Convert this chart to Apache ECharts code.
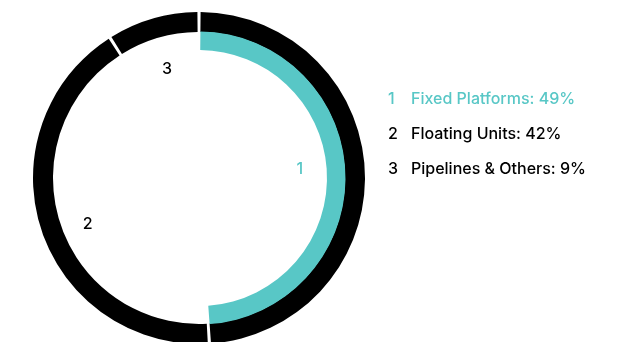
<!DOCTYPE html>
<html>
<head>
<meta charset="utf-8">
<script src="https://cdn.jsdelivr.net/npm/echarts@6/dist/echarts.min.js"></script>
<style>
  html, body { margin: 0; padding: 0; background: #fff; }
  #chart { width: 625px; height: 342px; }
</style>
</head>
<body>
<div id="chart"></div>
<script>
  // data
  const categories = ['Fixed Platforms', 'Floating Units', 'Pipelines & Others'];
  const shares = [49, 42, 9];
  const markers = ['1', '2', '3'];

  const TEAL = '#58c7c6';
  const INK = '#000000';
  const FONT = 'Inter, "Liberation Sans", sans-serif';

  // per-slice label nudge, px
  const labelShift = [[-17, -5], [1, 10], [1, 5]];

  const chart = echarts.init(document.getElementById('chart'), null, { renderer: 'canvas' });

  chart.setOption({
    animation: false,
    backgroundColor: '#fff',
    legend: {
      orient: 'vertical',
      left: 378,
      top: 85,
      itemWidth: 0,
      itemHeight: 0,
      itemGap: 17,
      icon: 'rect',
      selectedMode: false,
      data: categories.map((c, i) => ({
        name: c,
        textStyle: { color: i === 0 ? TEAL : INK }
      })),
      textStyle: {
        fontFamily: FONT, fontSize: 16, fontWeight: 500, lineHeight: 18,
        rich: {
          n: { width: 23, fontFamily: FONT, fontSize: 16, fontWeight: 500 }
        }
      },
      formatter: (name) => {
        const i = categories.indexOf(name);
        return '{n|' + markers[i] + '}' + name + ': ' + shares[i] + '%';
      }
    },
    series: [
      {
        // outer black ring
        type: 'pie',
        center: [199, 178],
        radius: [146, 166],
        startAngle: 90,
        padAngle: 1.1,
        silent: true,
        label: { show: false },
        labelLine: { show: false },
        itemStyle: { color: INK },
        data: categories.map((c, i) => ({ name: c, value: shares[i] }))
      },
      {
        // inner teal arc, only the first slice shows
        type: 'pie',
        center: [199, 178],
        radius: [128, 146.5],
        startAngle: 90,
        padAngle: 1.1,
        silent: true,
        label: { show: false },
        labelLine: { show: false },
        data: categories.map((c, i) => ({
          name: c + ' ',
          value: shares[i],
          itemStyle: { color: i === 0 ? TEAL : 'rgba(0,0,0,0)' }
        }))
      },
      {
        // slice numbers
        type: 'pie',
        center: [199, 178],
        radius: [105, 125],
        startAngle: 90,
        silent: true,
        labelLine: { show: false },
        itemStyle: { color: 'rgba(0,0,0,0)' },
        labelLayout: (p) => ({ dx: labelShift[p.dataIndex][0], dy: labelShift[p.dataIndex][1] }),
        data: categories.map((c, i) => ({
          name: c + '  ',
          value: shares[i],
          label: {
            show: true,
            position: 'inside',
            formatter: markers[i],
            color: i === 0 ? TEAL : INK,
            fontFamily: FONT,
            fontSize: 16,
            fontWeight: 500
          }
        }))
      }
    ]
  });
</script>
</body>
</html>
